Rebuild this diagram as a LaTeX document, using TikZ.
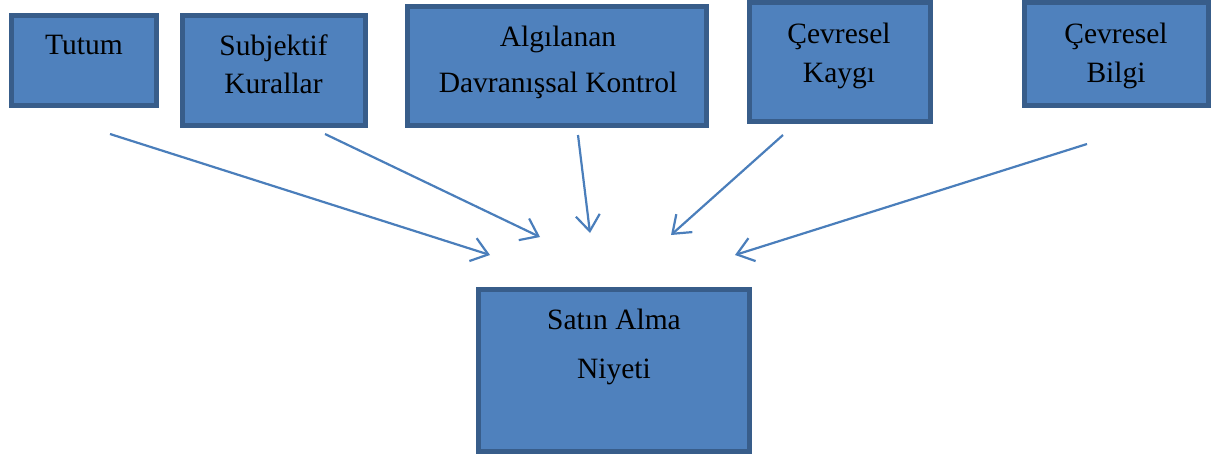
\documentclass[tikz,border=0pt]{standalone}
\usepackage{fontspec}
\setmainfont{Liberation Serif}
\usetikzlibrary{arrows.meta}
\definecolor{boxfill}{HTML}{4F81BD}
\definecolor{boxedge}{HTML}{385D8A}
\definecolor{arrowc}{HTML}{4A7EBB}
\begin{document}
\begin{tikzpicture}[x=1pt,y=-1pt,
  box/.style={draw=boxedge, fill=boxfill, line width=5pt, inner sep=0pt, outer sep=0pt},
  txt/.style={anchor=base, inner sep=0pt, font=\fontsize{29.5}{35}\selectfont, text=black},
  conn/.style={draw=arrowc, line width=2.2pt, -{Straight Barb[length=16pt,width=24pt,line width=2.2pt]}}]
\useasboundingbox (0,0) rectangle (1211,459);
% boxes
\node[box, minimum width=145pt, minimum height=90pt] (b1) at (84,60.5) {};
\node[box, minimum width=183pt, minimum height=110pt] (b2) at (273.5,70.5) {};
\node[box, minimum width=299pt, minimum height=119pt] (b3) at (557,66) {};
\node[box, minimum width=181pt, minimum height=119pt] (b4) at (839.5,62) {};
\node[box, minimum width=184pt, minimum height=103pt] (b5) at (1116.5,54) {};
\node[box, minimum width=271pt, minimum height=162pt] (b6) at (614,370.5) {};
% texts
\node[txt] (t1) at (84,54) {Tutum};
\node[txt] (t2a) at (273.5,55) {Subjektif};
\node[txt] (t2b) at (273.5,93) {Kurallar};
\node[txt] (t3a) at (558,46) {Algılanan};
\node[txt] (t3b) at (558,92) {Davranışsal Kontrol};
\node[txt] (t4a) at (839,43) {Çevresel};
\node[txt] (t4b) at (839,82) {Kaygı};
\node[txt] (t5a) at (1116,43) {Çevresel};
\node[txt] (t5b) at (1116,82) {Bilgi};
\node[txt] (t6a) at (614,329) {Satın Alma};
\node[txt] (t6b) at (614,378) {Niyeti};
% arrow end points
\coordinate (s1) at (110,134);  \coordinate (e1) at (490,255);
\coordinate (s2) at (325,134);  \coordinate (e2) at (540,237);
\coordinate (s3) at (578,135);  \coordinate (e3) at (590,233);
\coordinate (s4) at (783,135);  \coordinate (e4) at (671,235);
\coordinate (s5) at (1087,144); \coordinate (e5) at (735,255);
\draw[conn] (s1) -- (e1);
\draw[conn] (s2) -- (e2);
\draw[conn] (s3) -- (e3);
\draw[conn] (s4) -- (e4);
\draw[conn] (s5) -- (e5);
\end{tikzpicture}
\end{document}
